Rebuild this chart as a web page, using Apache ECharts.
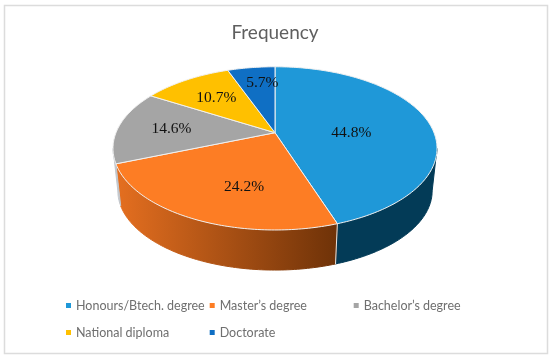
<!DOCTYPE html>
<html><head><meta charset="utf-8">
<style>html,body{margin:0;padding:0;background:#fff}#c{width:550px;height:359px}</style>
<script src="https://cdn.jsdelivr.net/npm/echarts@6/dist/echarts.min.js"></script>
</head><body><div id="c"></div>
<script>
const categories = ['Honours/Btech. degree', "Master\u2019s degree", "Bachelor\u2019s degree", 'National diploma', 'Doctorate'];
const shares = [44.8, 24.2, 14.6, 10.7, 5.7];
const labels = ['44.8%', '24.2%', '14.6%', '10.7%', '5.7%'];
const topColors = ['#1f98d8', '#fd7d24', '#a5a5a5', '#ffc000', '#0f6fc4'];

// Layout of the tilted pie (perspective projection of a unit disc)
const P = {cx: 275, cy: 132.7, a: 159, b: 78.6, k: 0.192, drop: 43, shrink: 0.97};
const labelPlace = [{r: .48, da: 9}, {r: .63, da: -9}, {r: .66, da: 0}, {r: .63, da: 0}, {r: .72, da: 3}];
const legendPlace = [[66, 299], [209.7, 299], [353.7, 299], [66, 326], [209.7, 326]];

const rad = d => d * Math.PI / 180;
function project(deg, r, bottom) {
  const u = Math.sin(rad(deg)) * r, v = -Math.cos(rad(deg)) * r, w = 1 - P.k * v;
  const s = bottom ? P.shrink : 1, off = bottom ? P.drop : 0;
  return [P.cx + s * P.a * u / w, P.cy + off + s * P.b * v / w];
}
function arc(from, to, bottom) {
  const n = Math.max(2, Math.ceil(Math.abs(to - from))), pts = [];
  for (let i = 0; i <= n; i++) pts.push(project(from + (to - from) * i / n, 1, bottom));
  return pts;
}
const total = shares.reduce((a, b) => a + b, 0);
const tangentR = 90 + Math.asin(P.k) * 180 / Math.PI, tangentL = 360 - tangentR;

const wallFills = [
  () => '#033b57',
  () => new echarts.graphic.LinearGradient(0, 0, 1, 0, [{offset: 0, color: '#e56f20'}, {offset: 1, color: '#6e3208'}]),
  () => '#c3c8ce'
];

const series = categories.map((name, i) => ({
  name, type: 'custom', coordinateSystem: 'none', silent: true,
  itemStyle: {color: topColors[i]},
  data: [[shares[i]]],
  renderItem: function () {
    const before = shares.slice(0, i).reduce((a, b) => a + b, 0);
    const a0 = before / total * 360, a1 = (before + shares[i]) / total * 360;
    const children = [];
    if (wallFills[i]) {
      const w0 = Math.max(a0, tangentR), w1 = Math.min(a1, tangentL);
      const top = arc(w0, w1, false), bot = arc(w1, w0, true), fill = wallFills[i]();
      children.push({type: 'polygon', shape: {points: top.concat(bot)}, style: {fill: fill, stroke: fill}});
      const s = project(a1, 1), e = project(a1, 1, true);
      if (i === 0) children.push({type: 'line', z2: 2, shape: {x1: s[0], y1: s[1], x2: e[0], y2: e[1]}, style: {stroke: '#e6e6e6', lineWidth: 1}});
    }
    children.push({type: 'polygon', z2: 5, shape: {points: [[P.cx, P.cy]].concat(arc(a0, a1, false))},
      style: {fill: topColors[i], stroke: '#f1f1f1', lineWidth: 1}});
    const pl = project((a0 + a1) / 2 + labelPlace[i].da, labelPlace[i].r, false);
    children.push({type: 'text', z2: 10, x: pl[0], y: pl[1], style: {text: labels[i], fill: '#111',
      font: '15.5px "Liberation Serif"', align: 'center', verticalAlign: 'middle'}});
    return {type: 'group', children};
  }
}));

const chart = echarts.init(document.getElementById('c'), null, {renderer: 'canvas'});
chart.setOption({
  animation: false,
  backgroundColor: '#fff',
  title: {text: 'Frequency', left: 275, top: 23, textAlign: 'center', padding: 0,
    textStyle: {fontFamily: 'Lato', fontSize: 19, fontWeight: 'normal', color: '#5f5f5f'}},
  legend: categories.map((name, i) => ({
    data: [name], left: legendPlace[i][0], top: legendPlace[i][1], padding: 0,
    icon: 'rect', itemWidth: 5, itemHeight: 5, selectedMode: false,
    textStyle: {fontFamily: 'Lato', fontSize: 12.5, color: '#6f6f6f'}
  })),
  graphic: [{type: 'rect', silent: true, shape: {x: 4.5, y: 5.5, width: 543, height: 348},
    style: {fill: 'none', stroke: '#dcdcdc', lineWidth: 1.5}}],
  series
});
</script></body></html>
